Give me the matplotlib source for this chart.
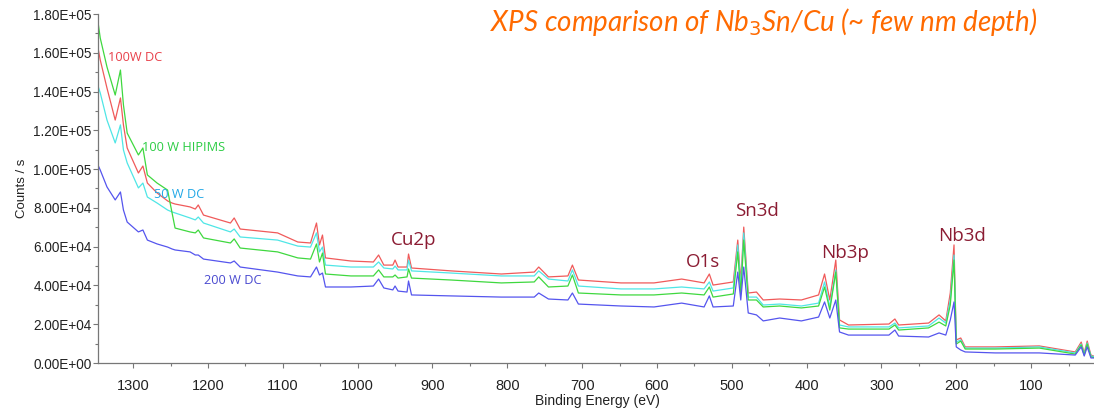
import matplotlib
matplotlib.use("Agg")
import matplotlib.pyplot as plt
from matplotlib.ticker import MultipleLocator, FuncFormatter

# Binding energy grid (eV) shared by all spectra
energy = [1347, 1344, 1335, 1324, 1317, 1313, 1308, 1293, 1287, 1281,
          1268, 1254, 1248, 1244, 1224, 1217, 1213, 1206, 1170, 1165,
          1157, 1107, 1080, 1063, 1055, 1051, 1047, 1043, 1009, 979,
          972, 965, 953, 950, 946, 934, 932, 928, 875, 808,
          764, 758, 745, 719, 713, 705, 648, 604, 567, 537,
          530, 525, 498, 492, 488, 484, 478, 467, 458, 436,
          407, 384, 376, 369, 361, 356, 344, 290, 282, 277,
          237, 223, 214, 208, 203, 200, 194, 188, 148, 89,
          41, 33, 29, 25, 20, 13]

counts_100w_dc = [162500, 156300, 141800, 125300, 136700, 122800, 110900, 98000, 101600, 92800,
                  87700, 83600, 82500, 82000, 80500, 79400, 81500, 76300, 72200, 74800,
                  69100, 67100, 62400, 61900, 72200, 60900, 66000, 54200, 52600, 52100,
                  55700, 50500, 50500, 53100, 49500, 49500, 56200, 49000, 47500, 45900,
                  46900, 49500, 44400, 44900, 50500, 42800, 41300, 41300, 43300, 41300,
                  45900, 40200, 41800, 63400, 41800, 70100, 36100, 36600, 32500, 33000,
                  32500, 35100, 45900, 32500, 53100, 22200, 19600, 20100, 22700, 19600,
                  20600, 24800, 21700, 36100, 60900, 11900, 12900, 8300, 8300, 8800,
                  5700, 10800, 5200, 11300, 4100, 3100]

counts_50w_dc = [142900, 139300, 125300, 113500, 122800, 109900, 103200, 90300, 92800, 85600,
                 82500, 78900, 77900, 77400, 74800, 73800, 75300, 72200, 67600, 69100,
                 65000, 63400, 60300, 59800, 67100, 57300, 59800, 50500, 49500, 49500,
                 52100, 49000, 48500, 50000, 48000, 48000, 53100, 47500, 46400, 44900,
                 44900, 47500, 43300, 42300, 48000, 39700, 38200, 38200, 39200, 38200,
                 41800, 37100, 38700, 60900, 38700, 67100, 34000, 34000, 29900, 30400,
                 29400, 30900, 41800, 28900, 48000, 19600, 18600, 18600, 20600, 18100,
                 19100, 23200, 20600, 32500, 55700, 10800, 11900, 7700, 7700, 8300,
                 5200, 9800, 4600, 10300, 3600, 3100]

counts_100w_hipims = [175900, 167600, 152700, 138200, 151100, 133100, 118600, 107300, 110900, 97000,
                      92800, 89200, 77400, 69600, 67600, 67100, 68600, 64500, 61900, 64000,
                      59300, 57300, 54200, 53600, 61400, 52100, 56700, 45900, 44900, 44900,
                      48000, 44400, 44400, 45400, 43800, 44400, 48500, 43800, 42800, 41300,
                      41800, 44400, 39200, 39700, 45400, 36100, 35100, 35100, 36100, 35100,
                      39200, 34000, 35600, 57300, 35600, 63400, 32500, 32500, 28900, 29400,
                      28400, 29400, 39200, 27300, 46900, 18100, 17500, 17500, 19600, 17000,
                      18100, 21100, 19100, 29900, 53100, 9800, 11300, 7200, 7200, 7700,
                      4600, 9300, 4100, 9800, 3100, 2600]

counts_200w_dc = [102100, 99500, 90800, 84100, 88200, 78900, 72700, 67600, 68600, 63400,
                  61400, 59800, 58800, 58300, 57300, 55700, 55700, 53600, 51600, 52600,
                  49500, 46900, 44900, 44400, 49500, 45400, 46400, 39200, 39200, 39700,
                  43300, 38700, 37700, 39700, 37100, 36600, 42300, 35100, 34600, 34000,
                  34000, 36100, 33000, 32500, 36100, 30400, 29400, 28900, 30900, 28900,
                  34600, 28900, 29400, 46900, 32500, 49500, 25800, 24800, 21700, 23200,
                  21700, 23700, 31500, 23200, 32500, 16000, 14400, 14400, 17000, 13900,
                  13400, 15500, 14400, 22200, 31500, 8300, 6700, 5700, 5200, 5200,
                  4100, 8300, 3600, 8300, 2600, 2600]

series_labels = ["100W DC", "50 W DC", "100 W HIPIMS", "200 W DC"]
series_label_pos = [(1333, 157800), (1272, 86700), (1288, 110900), (1206, 42800)]

peak_labels = ["Cu2p", "O1s", "Sn3d", "Nb3p", "Nb3d"]
peak_label_pos = [(925, 63400), (538, 52100), (467, 78400), (349, 56700), (192, 65500)]

title_text = "XPS comparison of Nb$_3$Sn/Cu (~ few nm depth)"

line_colors = ["#f05a5a", "#4fe6e6", "#3fd83f", "#5555ee"]
label_colors = ["#e8404a", "#22a8e6", "#2ccc44", "#4a4ad0"]
peak_color = "#8b1c33"

fig = plt.figure(figsize=(10.94, 4.11), dpi=100)
ax = fig.add_axes([98 / 1094, 1 - 363 / 411, 1 - 98 / 1094 + 0.002, (363 - 14) / 411])

all_counts = [counts_100w_dc, counts_50w_dc, counts_100w_hipims, counts_200w_dc]
for c, col in zip(all_counts, line_colors):
    ax.plot(energy, c, color=col, lw=0.9)

ax.set_xlim(1347, 13)
ax.set_ylim(0, 180000)

for s in ["top", "right"]:
    ax.spines[s].set_visible(False)
for s in ["left", "bottom"]:
    ax.spines[s].set_color("#777777")
    ax.spines[s].set_linewidth(0.9)

ax.xaxis.set_major_locator(MultipleLocator(100))
ax.xaxis.set_minor_locator(MultipleLocator(50))
ax.yaxis.set_major_locator(MultipleLocator(20000))
ax.yaxis.set_minor_locator(MultipleLocator(10000))
ax.yaxis.set_major_formatter(FuncFormatter(lambda v, p: "%.2E" % v))
ax.xaxis.set_major_formatter(FuncFormatter(lambda v, p: "%d" % v if v > 0 else ""))

ax.tick_params(axis="both", which="both", color="#777777", direction="out")
ax.tick_params(axis="both", which="major", length=3.5, width=0.8)
ax.tick_params(axis="both", which="minor", length=2.5, width=0.8)
ax.tick_params(axis="y", labelsize=9.8, labelcolor="#222222", pad=1)
ax.tick_params(axis="x", labelsize=10.5, labelcolor="#222222", pad=8)
for lab in ax.get_xticklabels():
    lab.set_family(["Liberation Sans Narrow", "Liberation Sans"])
for lab in ax.get_yticklabels():
    lab.set_family(["Liberation Sans"])

ax.set_xlabel("Binding Energy (eV)", fontsize=10,
              family=["Liberation Sans Narrow", "Liberation Sans"], color="#222222", labelpad=1)
ax.set_ylabel("Counts / s", fontsize=9.5, family=["Liberation Sans"], color="#222222", labelpad=4)

for txt, (x, y), col in zip(series_labels, series_label_pos, label_colors):
    ax.text(x, y, txt, color=col, fontsize=9.2, family=["Open Sans"], ha="left", va="center")

for txt, (x, y) in zip(peak_labels, peak_label_pos):
    ax.text(x, y, txt, color=peak_color, fontsize=13.5, family=["Open Sans"], ha="center", va="center")

fig.text(490 / 1094, 1 - 31 / 411, title_text, color="#ff6a00", fontsize=20,
         style="italic", family=["Lato", "Open Sans"], ha="left", va="baseline")

fig.savefig("out.png", dpi=100)
